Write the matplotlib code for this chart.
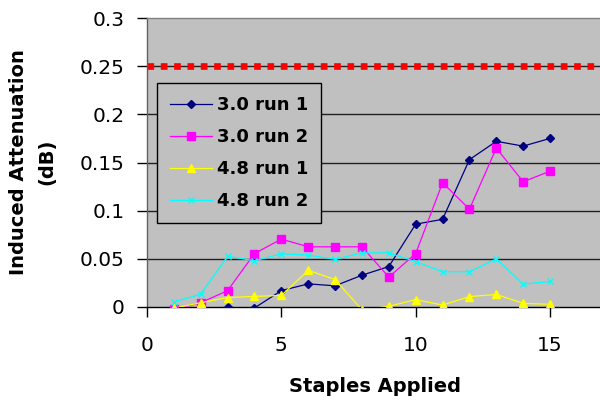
import matplotlib
matplotlib.use("Agg")
import matplotlib.pyplot as plt

# values
staples = [1, 2, 3, 4, 5, 6, 7, 8, 9, 10, 11, 12, 13, 14, 15]
run30_1 = [-0.005, -0.001, -0.0005, -0.001, 0.017, 0.024, 0.022, 0.033, 0.042,
           0.086, 0.091, 0.153, 0.172, 0.167, 0.175]
run30_2 = [-0.0025, 0.0045, 0.017, 0.0555, 0.0705, 0.0625, 0.0625, 0.0625, 0.031,
           0.0555, 0.129, 0.1015, 0.165, 0.130, 0.141]
run48_1 = [-0.0013, 0.0045, 0.0098, 0.011, 0.012, 0.038, 0.0285, -0.003, 0.0007,
           0.0077, 0.002, 0.0108, 0.013, 0.0038, 0.0028]
run48_2 = [0.0052, 0.0133, 0.0527, 0.048, 0.0551, 0.054, 0.0495, 0.0562, 0.0562,
           0.0471, 0.0366, 0.0366, 0.0499, 0.0237, 0.0265]
threshold = 0.25
x_ticks = [0, 5, 10, 15]
y_ticks = [0, 0.05, 0.1, 0.15, 0.2, 0.25, 0.3]
y_tick_labels = ["0", "0.05", "0.1", "0.15", "0.2", "0.25", "0.3"]

BG = "#C0C0C0"

plt.rcParams["font.family"] = ["DejaVu Sans"]

fig = plt.figure(figsize=(6.0, 4.01), dpi=100)
W, H = 600, 401
# plot area in pixels: left 147, top 18, bottom 307, 26.87 px per staple
ax = fig.add_axes([147 / W, (H - 307) / H, 17 * 26.87 / W, (307 - 18) / H])
ax.set_facecolor(BG)

for y in y_ticks[1:-1]:
    ax.axhline(y, color="#202020", linewidth=1.0, zorder=1)

ax.plot([0, 17], [threshold, threshold], color="#FF0000", linewidth=4.8,
        dashes=(1.0, 1.0), dash_capstyle="butt", zorder=2)

ax.plot(staples, run30_1, color="#000080", linewidth=0.9, marker="D",
        markersize=4, label="3.0 run 1", zorder=3)
ax.plot(staples, run30_2, color="#FF00FF", linewidth=0.9, marker="s",
        markersize=5.5, label="3.0 run 2", zorder=3)
ax.plot(staples, run48_1, color="#FFFF00", linewidth=0.9, marker="^",
        markersize=6, label="4.8 run 1", zorder=3)
ax.plot(staples, run48_2, color="#00FFFF", linewidth=0.9, marker="x",
        markersize=5, markeredgewidth=1.0, label="4.8 run 2", zorder=3)

ax.set_xlim(0, 17)
ax.set_ylim(0, 0.3)
ax.set_xticks(x_ticks)
ax.set_yticks(y_ticks)
ax.set_yticklabels(y_tick_labels)
ax.tick_params(axis="both", direction="out", length=7, width=1,
               labelsize=14.5, colors="#000000")
ax.tick_params(axis="x", pad=14)
ax.tick_params(axis="y", pad=9)

ax.spines["right"].set_visible(False)
ax.spines["top"].set_color("#808080")
ax.spines["left"].set_color("#606060")
ax.spines["bottom"].set_color("#000000")
for s in ax.spines.values():
    s.set_linewidth(1.0)

ax.set_xlabel("Staples Applied", fontsize=14, fontweight="bold", labelpad=16)
fig.text(33 / W, 1 - 162 / H, "Induced Attenuation\n(dB)", rotation=90,
         ha="center", va="center", fontsize=14, fontweight="bold",
         linespacing=1.6, multialignment="center")

leg = fig.legend(loc="upper left", bbox_to_anchor=(157 / W, 1 - 83 / H),
                 frameon=True, fancybox=False, edgecolor="#000000",
                 facecolor=BG, framealpha=1, numpoints=1,
                 prop={"size": 13, "weight": "bold"}, handlelength=2.3,
                 handletextpad=0.3, labelspacing=0.78, borderpad=0.72,
                 borderaxespad=0)
leg.get_frame().set_linewidth(1.0)

fig.savefig("out.png", dpi=100)
